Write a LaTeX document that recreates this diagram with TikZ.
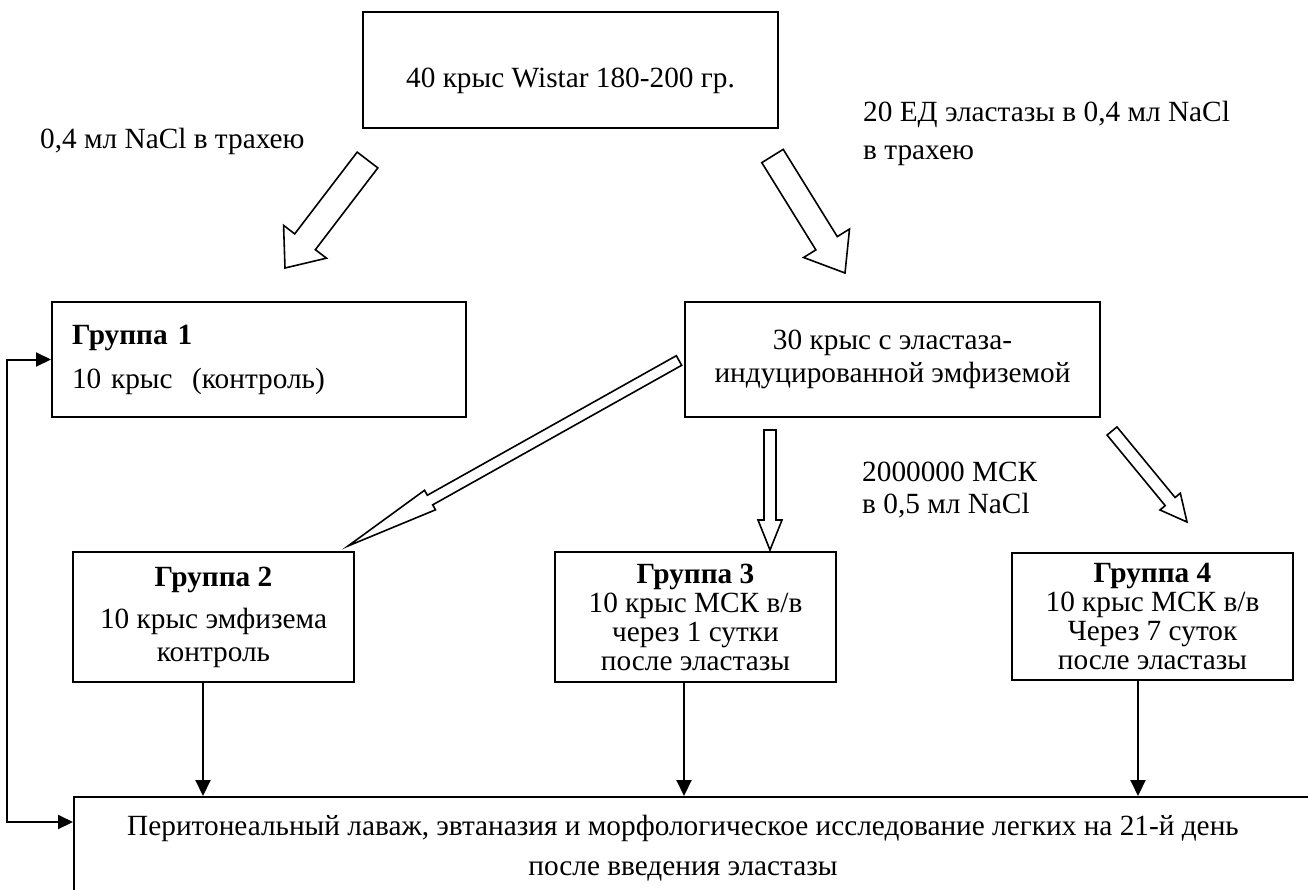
\documentclass[tikz,border=0pt]{standalone}
\usepackage{fontspec}
\setmainfont{Liberation Serif}
\usetikzlibrary{arrows.meta,calc}
\newcommand\blockarrow[5]{%
  \coordinate (hb) at ($(#2)!#5!(#1)$);
  \draw[harrow] ($(#1)!#3!90:(#2)$) -- ($(hb)!#3!90:(#2)$) -- ($(hb)!#4!90:(#2)$) -- (#2)
    -- ($(hb)!#4!-90:(#2)$) -- ($(hb)!#3!-90:(#2)$) -- ($(#1)!#3!-90:(#2)$) -- cycle;}
\begin{document}
\begin{tikzpicture}[x=1pt,y=-1pt,
  font=\fontsize{29.3}{29}\selectfont,
  box/.style={draw, line width=2pt, inner sep=0pt, align=center},
  conn/.style={line width=2pt, -{Triangle[length=16pt,width=15pt]}},
  biconn/.style={line width=2pt, {Triangle[length=15pt,width=14pt]}-{Triangle[length=15pt,width=14pt]}},
  harrow/.style={draw, line width=1.6pt, fill=white, line join=miter},
  lbl/.style={inner sep=0pt, align=left, anchor=west}]
\useasboundingbox (0,0) rectangle (1308,889);
\clip (0,0) rectangle (1308,889);
\fill[white] (0,0) rectangle (1308,889);

% boxes
\node[box, minimum width=415pt, minimum height=116pt, text height=40pt, text depth=6pt] (top) at (570.5,70) {40 крыс Wistar 180-200 гр.};
\node[box, minimum width=414pt, minimum height=115pt, align=left, text width=374pt] (g1) at (259,359.5)
  {\textbf{Группа 1}\\[15pt]10 крыс\ \ (контроль)};
\node[box, minimum width=415pt, minimum height=115pt] (b30) at (892.5,359.5)
  {30 крыс с эластаза-\\[4pt]индуцированной эмфиземой};
\node[box, minimum width=281pt, minimum height=130pt] (g2) at (213.5,617)
  {\textbf{Группа 2}\\[13pt]10 крыс эмфизема\\[4pt]контроль};
\node[box, minimum width=281pt, minimum height=130pt] (g3) at (695.5,617)
  {\textbf{Группа 3}\\10 крыс МСК в/в\\через 1 сутки\\после эластазы};
\node[box, minimum width=281pt, minimum height=127pt] (g4) at (1152.5,616.5)
  {\textbf{Группа 4}\\10 крыс МСК в/в\\Через 7 суток\\после эластазы};
\node[draw, line width=2pt, inner sep=0pt, anchor=north west, minimum width=1300pt, minimum height=200pt] (fin) at (73,796) {};
\node[inner sep=0pt, align=center] (fintext) at (683,848)
  {Перитонеальный лаваж, эвтаназия и морфологическое исследование легких на 21-й день\\[11pt]после введения эластазы};

% labels
\node[lbl] (l1) at (40,141) {0,4 мл NaCl в трахею};
\node[lbl] (l2) at (863,133) {20 ЕД эластазы в 0,4 мл NaCl\\[9pt]в трахею};
\node[lbl] (l3) at (862,490) {2000000 МСК\\[3pt]в 0,5 мл NaCl};

% block arrows
\coordinate (a1t) at (367.5,160); \coordinate (a1p) at (285,268);
\blockarrow{a1t}{a1p}{13pt}{27pt}{33pt}
\coordinate (a2t) at (772.5,156); \coordinate (a2p) at (845,273);
\blockarrow{a2t}{a2p}{12.6pt}{27pt}{35pt}
\coordinate (a3t) at ($(b30.west)+(-5,1)$); \coordinate (a3p) at (348,546);
\blockarrow{a3t}{a3p}{5.5pt}{11.2pt}{94pt}
\coordinate (a4t) at (770,430); \coordinate (a4p) at (770,550);
\blockarrow{a4t}{a4p}{6pt}{12pt}{30pt}
\coordinate (a5t) at (1112,431); \coordinate (a5p) at (1187,522);
\blockarrow{a5t}{a5p}{6.4pt}{13.2pt}{26.5pt}

% connectors
\coordinate (c2) at ($(g2.south)+(-10.5,0)$);
\coordinate (c3) at ($(g3.south)+(-11.5,0)$);
\coordinate (c4) at ($(g4.south)+(-14.5,0)$);
\draw[conn] (c2) -- (c2 |- fin.north);
\draw[conn] (c3) -- (c3 |- fin.north);
\draw[conn] (c4) -- (c4 |- fin.north);
\coordinate (lft) at ($(g1.west)+(-44,0)$);
\draw[biconn] ($(fin.north west)+(0,26)$) -| (lft) -- (g1.west);
\end{tikzpicture}
\end{document}
